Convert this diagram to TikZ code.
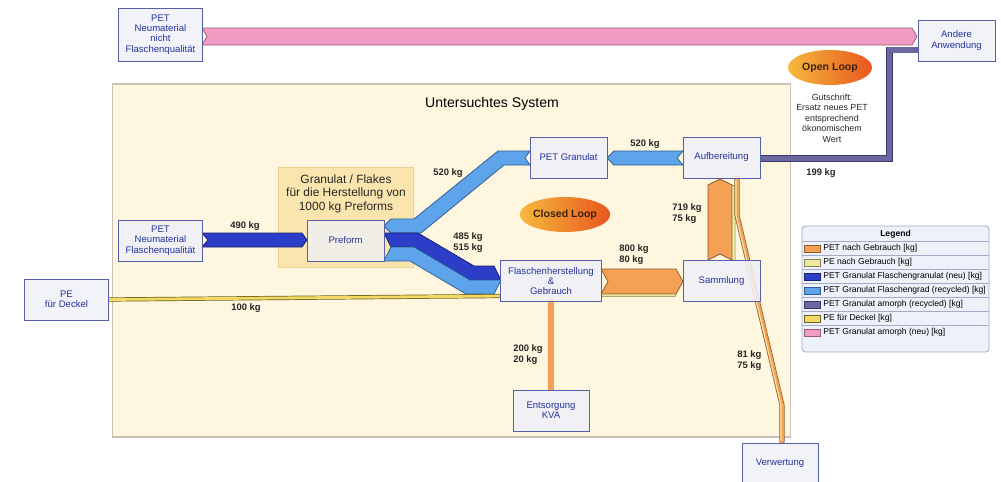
\documentclass[tikz,border=0pt]{standalone}
\usepackage{fontspec}
\setmainfont{Liberation Sans}
\usetikzlibrary{shapes.geometric,calc}
\pgfdeclarelayer{back}
\pgfdeclarelayer{flows}
\pgfsetlayers{back,flows,main}
\definecolor{boxfill}{HTML}{F0F0F8}
\definecolor{boxdraw}{HTML}{5560A8}
\definecolor{txtblue}{HTML}{24329A}
\definecolor{sysfill}{HTML}{FEF6DE}
\definecolor{sysdraw}{HTML}{C9C2B5}
\definecolor{granfill}{HTML}{FBE5AE}
\definecolor{grandraw}{HTML}{EBD38F}
\definecolor{pinkf}{HTML}{F29BC4}
\definecolor{pinkd}{HTML}{9A5C7A}
\definecolor{dblue}{HTML}{2C3DC8}
\definecolor{dblued}{HTML}{1A2270}
\definecolor{lblue}{HTML}{5DA4EA}
\definecolor{lblued}{HTML}{2F5E96}
\definecolor{purplef}{HTML}{6A689F}
\definecolor{purpled}{HTML}{3A3870}
\definecolor{orangef}{HTML}{F4A055}
\definecolor{oranged}{HTML}{8E5C2C}
\definecolor{yellowf}{HTML}{F2D865}
\definecolor{yellowd}{HTML}{6E6020}
\definecolor{pef}{HTML}{EFE8A2}
\definecolor{ped}{HTML}{8A8450}
\definecolor{loopl}{HTML}{F6B93E}
\definecolor{loopr}{HTML}{E8561E}
\definecolor{loopt}{HTML}{3B2410}
\definecolor{legf}{HTML}{EEF0FA}
\definecolor{legd}{HTML}{A4AAC8}
\newcommand{\dgnodefont}{\fontsize{6.8pt}{7.3pt}\selectfont}
\newcommand{\dglblfont}{\bfseries\fontsize{6.7pt}{7.8pt}\selectfont}
\newcommand{\dglegfont}{\fontsize{6.1pt}{7pt}\selectfont}
\begin{document}
\begin{tikzpicture}[x=0.025cm,y=-0.025cm,
  box/.style={draw=boxdraw, fill=boxfill, fill opacity=0.88, text opacity=1, line width=0.7pt,
    inner sep=0pt, outer sep=0pt, align=center, font=\dgnodefont, text=txtblue,
    minimum width=1.925cm, minimum height=1.025cm},
  band/.style={line width=0.55pt, line join=miter},
  lbl/.style={font=\dglblfont, align=left, inner sep=0pt, text=black!85},
  loopnode/.style={ellipse, minimum width=2.1cm, minimum height=0.875cm, inner sep=0pt,
    left color=loopl, right color=loopr, font=\bfseries\fontsize{7.5pt}{8pt}\selectfont, text=loopt},
  thinband/.style={line width=0.5pt, double distance=#1},
  swatch/.style={line width=0.5pt}
]
\useasboundingbox (0,0) rectangle (1001,481);

% ---------- background: system frame ----------
\begin{pgfonlayer}{back}
\node[draw=sysdraw, fill=sysfill, line width=0.8pt, minimum width=16.925cm, minimum height=8.825cm, inner sep=0pt] (sys) at (451.5,260.5) {};
\node[draw=grandraw, fill=granfill, line width=0.6pt, minimum width=3.375cm, minimum height=2.5cm, inner sep=0pt] (granbox) at (345.5,217) {};
\end{pgfonlayer}

\node[font=\fontsize{10pt}{11pt}\selectfont, text=black] (systitle) at (492,104) {Untersuchtes System};
\node[font=\fontsize{8.5pt}{9.6pt}\selectfont, align=center, text=black!85] (granlbl) at (346,193.5) {Granulat / Flakes\\für die Herstellung von\\1000 kg Preforms};

% ---------- nodes ----------
\node[box, minimum width=2.075cm, minimum height=1.325cm] (nneu) at (160.5,34.5) {PET\\Neumaterial\\nicht\\Flaschenqualität};
\node[box] (andere) at (956.5,40.5) {Andere\\Anwendung};
\node[box, minimum width=2.075cm] (neu) at (160.5,240.5) {PET\\Neumaterial\\Flaschenqualität};
\node[box, fill=black!6] (pre) at (345.5,240.5) {Preform};
\node[box] (gran) at (568.5,157.5) {PET Granulat};
\node[box] (aufb) at (721.5,157.5) {Aufbereitung};
\node[box, minimum width=2.5cm] (flasch) at (551,281) {Flaschenherstellung\\\&\\Gebrauch};
\node[box] (samm) at (721.5,281) {Sammlung};
\node[box, minimum width=1.9cm] (ents) at (551,410.5) {Entsorgung\\KVA};
\node[box, minimum width=1.9cm] (verw) at (780,463.5) {Verwertung};
\node[box, minimum width=2.075cm] (deckel) at (66.5,299.5) {PE\\für Deckel};

% ---------- flows ----------
\begin{pgfonlayer}{flows}
% pink: nicht Flaschenqualitaet -> Andere Anwendung
\draw[band, fill=pinkf, draw=pinkd] (202,28) -- (912,28) -- (917,36.5) -- (912,45) -- (202,45) -- (207,36.5) -- cycle;
% dark blue 490
\draw[band, fill=dblue, draw=dblued] (202,233) -- (302,233) -- (307,240) -- (302,247) -- (202,247) -- (208,240) -- cycle;
% light blue 520 PET Granulat -> Preform
\draw[band, fill=lblue, draw=lblued] (530,151) -- (498,151) -- (414,219) -- (391,219) -- (384,226) -- (391,233) -- (421,233) -- (504,165) -- (530,165) -- (525,158) -- cycle;
% light blue 520 Aufbereitung -> PET Granulat
\draw[band, fill=lblue, draw=lblued] (614,151) -- (683,151) -- (677,158) -- (683,165) -- (614,165) -- (607,158) -- cycle;
% dark blue 485 Preform -> Flaschen
\draw[band, fill=dblue, draw=dblued] (384,233) -- (418,233) -- (474,266) -- (494,266) -- (501,280) -- (470,280) -- (414,247) -- (391,247) -- cycle;
% light blue 515 Preform -> Flaschen
\draw[band, fill=lblue, draw=lblued] (391,247) -- (414,247) -- (470,280) -- (501,280) -- (494,294) -- (466,294) -- (410,261) -- (384,261) -- cycle;
% PE fuer Deckel 100 kg
\draw[thinband=2pt, draw=yellowd, double=yellowf] (deckel.east) -- (flasch.west |- 0,296);
% orange 800 + PE 80 Flaschen -> Sammlung
\draw[band, fill=orangef, draw=oranged] (601,269) -- (676,269) -- (683,281.5) -- (676,294) -- (601,294) -- (608,281.5) -- cycle;
\draw[band, fill=pef, draw=ped, line width=0.35pt] (601,294) -- (676,294) -- (675,296.5) -- (601,296.5) -- cycle;
% orange 719 + PE 75 Sammlung -> Aufbereitung
\draw[band, fill=orangef, draw=oranged] (708,260) -- (708,185) -- (720,179) -- (732,185) -- (732,260) -- (720,254) -- cycle;
\draw[band, fill=pef, draw=ped, line width=0.35pt] (732,185) -- (735,186) -- (735,260) -- (732,260) -- cycle;
% 200 / 20 kg Flaschen -> Entsorgung
\draw[thinband=3.7pt, draw=oranged, double=orangef, line cap=round] (flasch.south) -- ($(ents.north)+(0,-2)$);
% 81 / 75 kg Aufbereitung -> Verwertung
\draw[thinband=2.6pt, draw=oranged, double=orangef, line cap=round, line join=round] (aufb.south) ++(15.5,0) -- (737,215) -- (782,405) -- ($(verw.north)+(2,-1)$);
\draw[pef, line width=0.8pt, line join=round] (736,180) -- (736,215) -- (781,405) -- (781,441);
% purple 199 Aufbereitung -> Andere Anwendung
\draw[thinband=3.8pt, draw=purpled, double=purplef, line join=miter] (aufb.east |- 0,158.5) -- (889.5,158.5) -- (889.5,50) -- (andere.west |- 0,50);
\end{pgfonlayer}

% ---------- flow labels ----------
\node[lbl] (l490) at (245,226) {490 kg};
\node[lbl] (l520a) at (448,173) {520 kg};
\node[lbl] (l485) at (468,242.5) {485 kg\\515 kg};
\node[lbl] (l520b) at (645,144) {520 kg};
\node[lbl, anchor=west] (l719) at (672,213.5) {719 kg\\75 kg};
\node[lbl, anchor=west] (l800) at (619,254.5) {800 kg\\80 kg};
\node[lbl, anchor=west] (l200) at (513,354.5) {200 kg\\20 kg};
\node[lbl, anchor=west] (l81) at (737,360.5) {81 kg\\75 kg};
\node[lbl] (l199) at (821,173) {199 kg};
\node[lbl] (l100) at (246,308) {100 kg};

% ---------- loops ----------
\node[loopnode] (open) at (830,67.5) {Open Loop};
\node[loopnode] (closed) at (565,214.5) {Closed Loop};
\node[font=\fontsize{6.3pt}{7.5pt}\selectfont, align=center, text=black!85] (gut) at (832,118) {Gutschrift:\\Ersatz neues PET\\entsprechend\\ökonomischem\\Wert};

% ---------- legend ----------
\node[draw=legd, fill=legf, rounded corners=2.5pt, line width=0.6pt, minimum width=4.675cm, minimum height=3.15cm, inner sep=0pt] (legend) at (895.5,289) {};
\node[font=\bfseries\dglegfont, text=black] (legtitle) at (895.5,234) {Legend};
\foreach \i in {0,...,6} {
  \draw[legd, line width=0.4pt] (802,241+14*\i) -- (989,241+14*\i);
}
\foreach \i/\cf/\cd/\t in {0/orangef/oranged/{PET nach Gebrauch [kg]},
                           1/pef/ped/{PE nach Gebrauch [kg]},
                           2/dblue/dblued/{PET Granulat Flaschengranulat (neu) [kg]},
                           3/lblue/lblued/{PET Granulat Flaschengrad (recycled) [kg]},
                           4/purplef/purpled/{PET Granulat amorph (recycled) [kg]},
                           5/yellowf/yellowd/{PE für Deckel [kg]},
                           6/pinkf/pinkd/{PET Granulat amorph (neu) [kg]}} {
  \draw[swatch, fill=\cf, draw=\cd] (804,245+14*\i) rectangle (820,252+14*\i);
  \node[font=\dglegfont, anchor=west, inner sep=0pt, text=black] (leg\i) at (823,248.5+14*\i) {\t};
}
\end{tikzpicture}
\end{document}
